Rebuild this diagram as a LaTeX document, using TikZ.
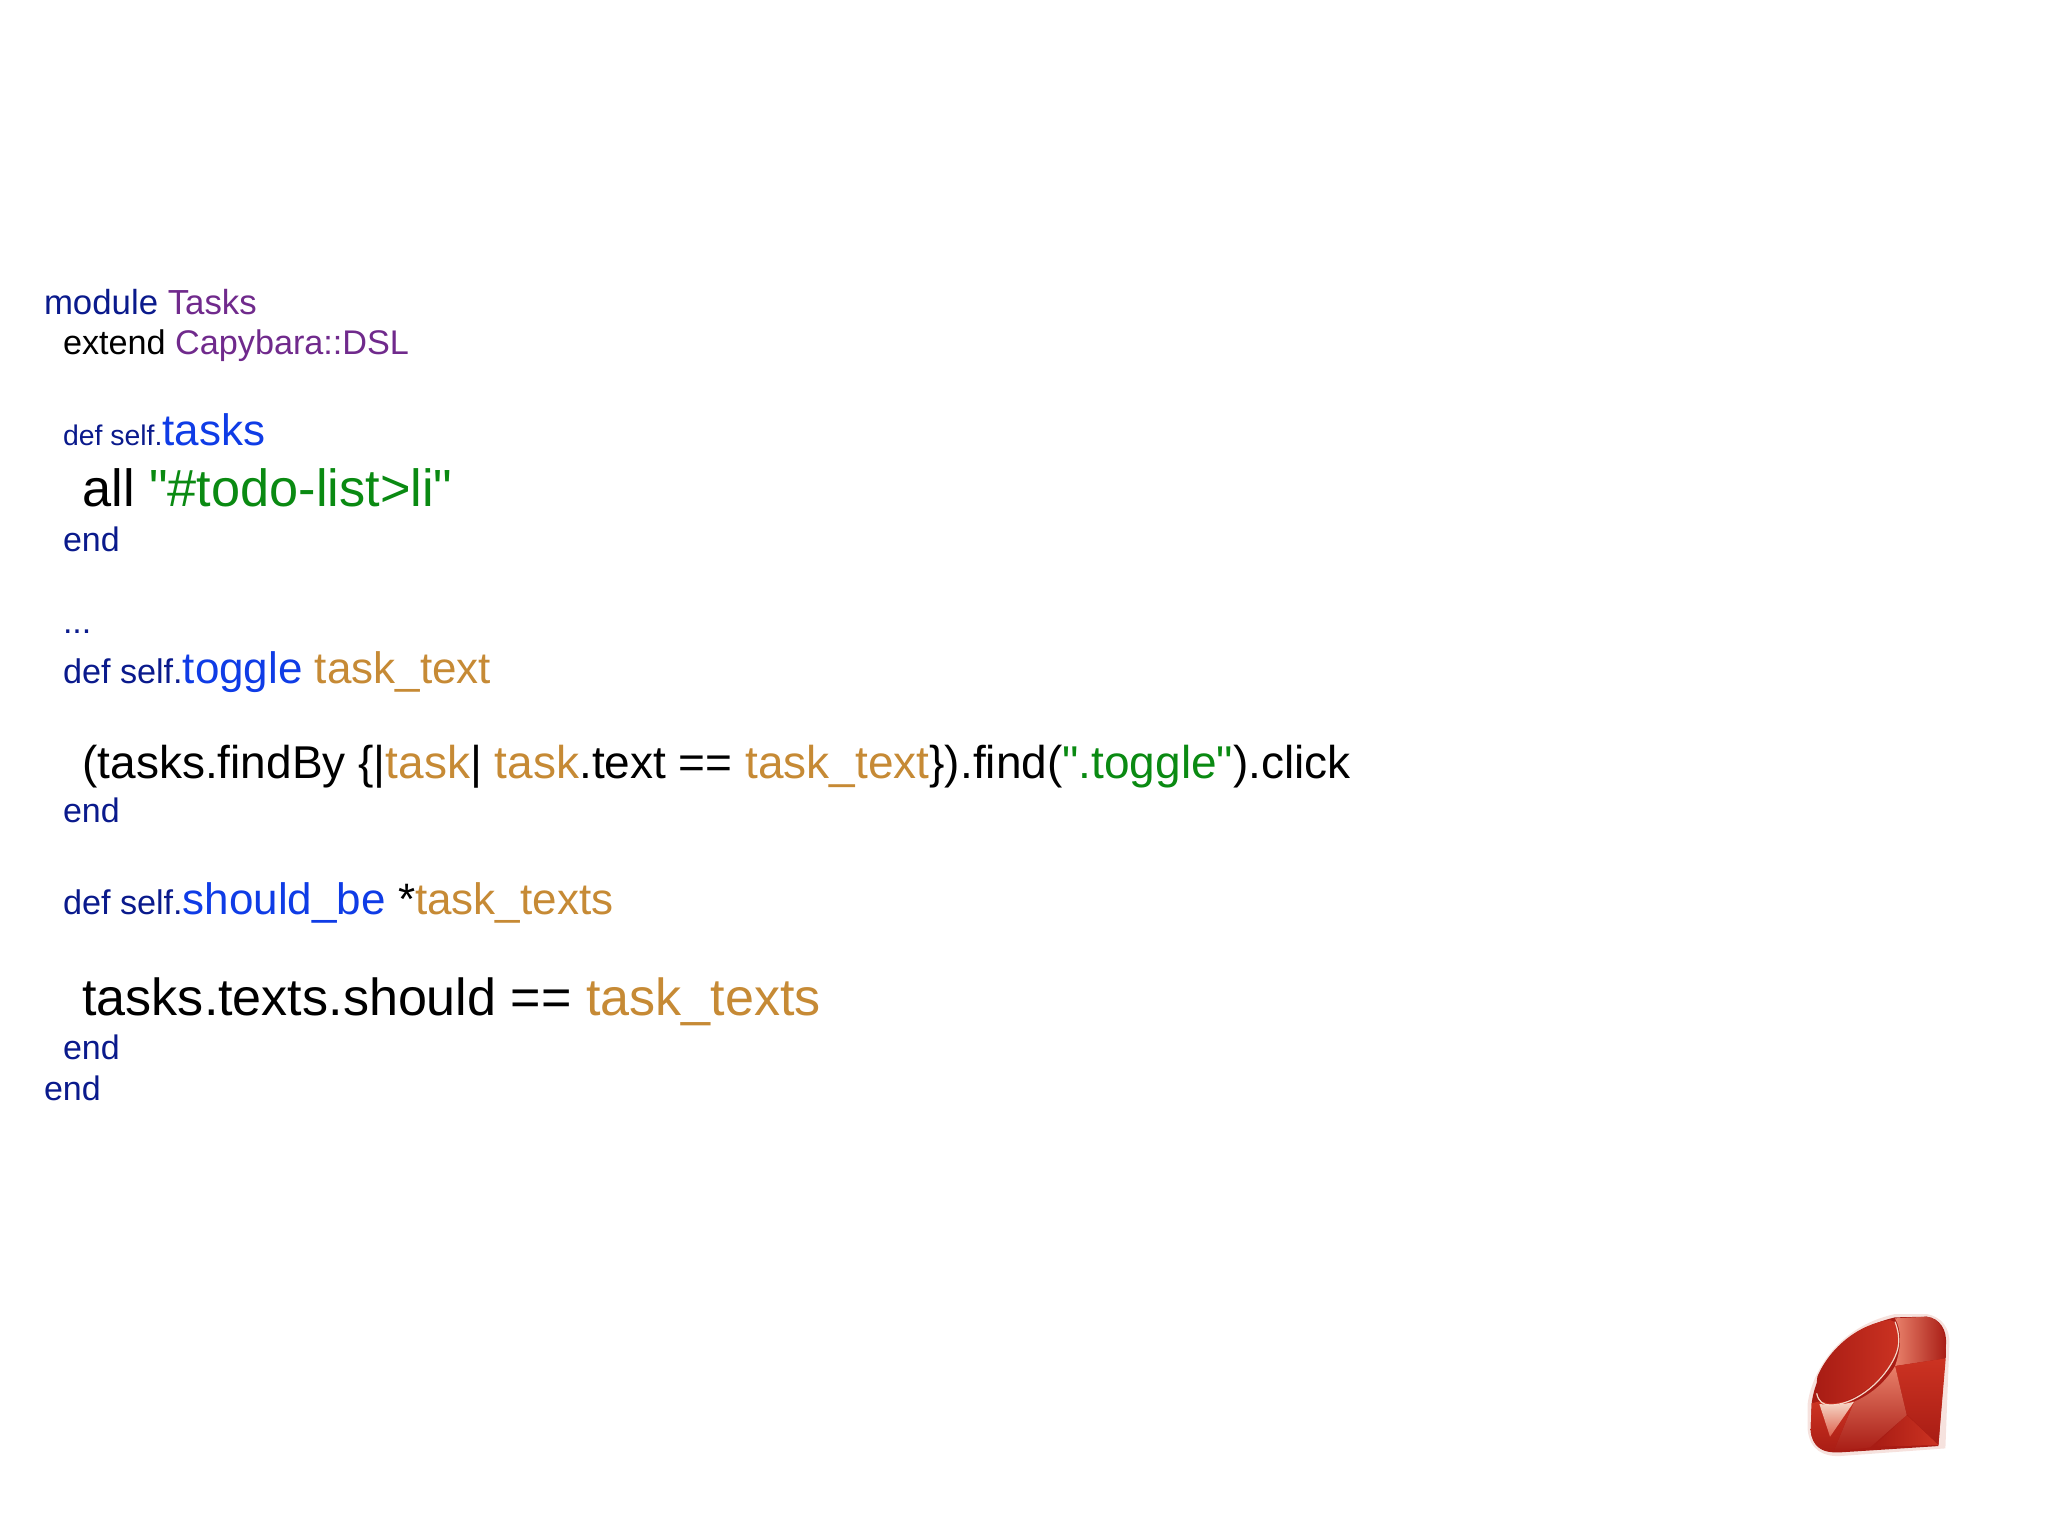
\documentclass[tikz,border=0pt]{standalone}
\usepackage{fontspec}
\setmainfont{Liberation Sans}[Ligatures=TeXOff]
\usetikzlibrary{positioning}
\usepackage{xcolor}

\definecolor{keyword}{HTML}{0A1A8C}
\definecolor{constant}{HTML}{702A8C}
\definecolor{method}{HTML}{0F3CE6}
\definecolor{string}{HTML}{0A8A12}
\definecolor{argument}{HTML}{C68A35}
\definecolor{rubydark}{HTML}{A81C14}
\definecolor{rubymid}{HTML}{CC3322}
\definecolor{rubylight}{HTML}{E8806A}
\definecolor{rubyrim}{HTML}{F6E2DE}
\definecolor{rubypale}{HTML}{F6D8C8}

\newcommand{\fs}[1]{\fontsize{#1}{#1}\selectfont}

\begin{document}
\begin{tikzpicture}[x=0.5pt,y=-0.5pt,node distance=0pt,every node/.style={inner sep=0pt, outer sep=0pt, anchor=base west}]
  \useasboundingbox (0,0) rectangle (2048,1536);

  \node(A) at (44,314) {\fs{17.4pt}\textcolor{keyword}{module} \textcolor{constant}{Tasks}};
  \node(B)[below=of A.base west,anchor=base west,xshift=9.5pt,yshift=-20pt] {\fs{17.1pt}extend \textcolor{constant}{Capybara::DSL}};

  \node(C)[below=of B.base west,anchor=base west,yshift=-45.5pt] {\fs{14.2pt}\textcolor{keyword}{def self.}\fs{22pt}\textcolor{method}{tasks}};
  \node(D)[below=of C.base west,anchor=base west,xshift=9.7pt,yshift=-30.5pt] {\fs{26.15pt}all \textcolor{string}{"\#todo-list>li"}};
  \node(E)[below=of D.base west,anchor=base west,xshift=-9.7pt,yshift=-22.5pt] {\fs{17pt}\textcolor{keyword}{end}};

  \node(F)[below=of E.base west,anchor=base west,yshift=-41pt] {\fs{17pt}\textcolor{keyword}{...}};
  \node(G)[below=of F.base west,anchor=base west,yshift=-25pt] {\fs{17.1pt}\textcolor{keyword}{def self.}\fs{22pt}\textcolor{method}{toggle} \textcolor{argument}{task\_text}};

  \node(H)[below=of G.base west,anchor=base west,xshift=9.7pt,yshift=-47.5pt] {\fs{23pt}(tasks.findBy \{|\textcolor{argument}{task}| \textcolor{argument}{task}.text == \textcolor{argument}{task\_text}\}).find(\textcolor{string}{".toggle"}).click};
  \node(I)[below=of H.base west,anchor=base west,xshift=-9.7pt,yshift=-22pt] {\fs{17pt}\textcolor{keyword}{end}};

  \node(J)[below=of I.base west,anchor=base west,yshift=-46pt] {\fs{17.1pt}\textcolor{keyword}{def self.}\fs{22pt}\textcolor{method}{should\_be} *\textcolor{argument}{task\_texts}};

  \node(K)[below=of J.base west,anchor=base west,xshift=9.7pt,yshift=-50.5pt] {\fs{26.05pt}tasks.texts.should == \textcolor{argument}{task\_texts}};
  \node(L)[below=of K.base west,anchor=base west,xshift=-9.7pt,yshift=-22.2pt] {\fs{17pt}\textcolor{keyword}{end}};
  \node(M)[below=of L.base west,anchor=base west,xshift=-9.5pt,yshift=-20.6pt] {\fs{17pt}\textcolor{keyword}{end}};

  % ruby
  \begin{scope}[shift={(1780,1290)},x=0.1667pt,y=-0.1667pt]
    \fill[rubyrim] (345,72) -- (440,72) .. controls (485,80) and (510,115) .. (508,160) -- (496,475) -- (180,498) .. controls (130,500) and (90,480) .. (83,420) -- (83,340) .. controls (95,250) and (170,110) .. (345,72) -- cycle;
    \fill[rubydark] (345,82) -- (440,80) .. controls (480,85) and (500,120) .. (498,160) -- (475,468) -- (180,487) .. controls (130,490) and (95,470) .. (92,420) -- (95,340) .. controls (105,250) and (180,120) .. (345,82) -- cycle;
    % top and right
    \shade[left color=rubylight,right color=rubydark] (345,85) -- (440,80) .. controls (480,85) and (500,120) .. (497,205) -- (345,228) .. controls (365,170) and (365,120) .. (345,85) -- cycle;
    \shade[top color=rubymid,bottom color=rubydark] (345,228) -- (497,205) -- (475,465) -- (380,372) -- cycle;
    % bottom
    \shade[left color=rubydark,right color=rubymid] (380,375) -- (475,465) -- (280,470) -- cycle;
    \shade[top color=rubylight,bottom color=rubydark] (345,228) -- (380,375) -- (270,472) -- (160,485) -- (222,335) .. controls (280,310) and (320,270) .. (345,228) -- cycle;
    % lower left
    \shade[top color=rubymid,bottom color=rubydark] (95,340) -- (115,335) -- (222,335) -- (160,485) .. controls (130,488) and (95,470) .. (92,420) -- cycle;
    \shade[top color=rubypale,bottom color=rubylight!60!rubymid] (118,342) .. controls (150,345) and (190,345) .. (222,335) -- (150,440) -- cycle;
    % table
    \shade[left color=rubydark,right color=rubymid] (330,90) .. controls (360,95) and (365,150) .. (340,205) .. controls (300,280) and (220,340) .. (150,340) .. controls (120,340) and (105,310) .. (112,260) .. controls (150,170) and (240,100) .. (330,90) -- cycle;
    \draw[rubypale,line width=0.6pt] (345,95) .. controls (365,150) and (355,180) .. (340,210) .. controls (300,285) and (220,345) .. (150,345) .. controls (130,345) and (115,335) .. (110,310);
  \end{scope}
\end{tikzpicture}
\end{document}
